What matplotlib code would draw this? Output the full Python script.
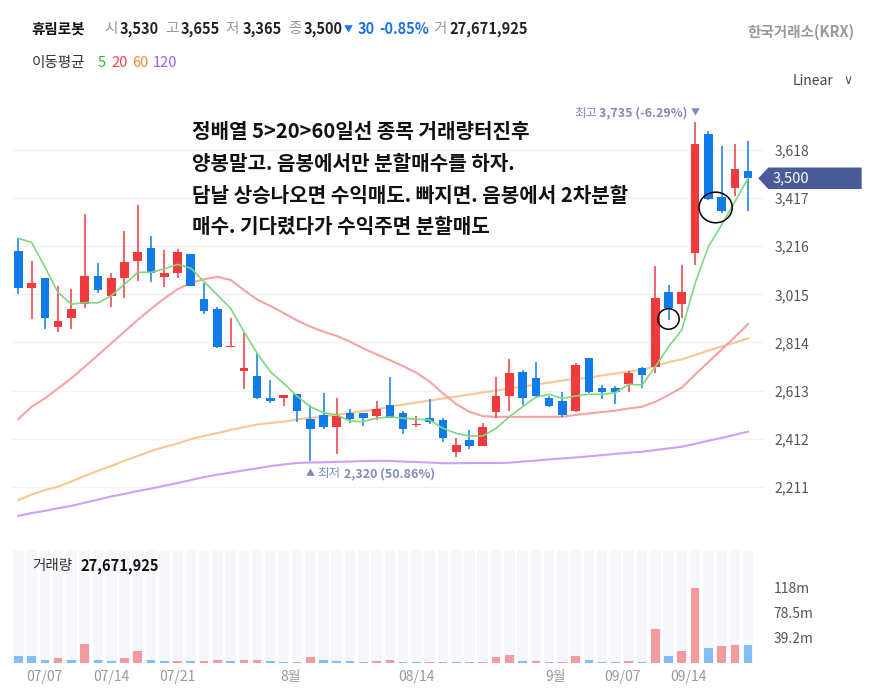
import matplotlib
matplotlib.use("Agg")
import matplotlib.pyplot as plt
from matplotlib.patches import Ellipse, Polygon
from matplotlib.transforms import IdentityTransform, blended_transform_factory

plt.rcParams['font.family'] = ['Noto Sans CJK KR', 'DejaVu Sans']

W, H = 875, 691

# === 일봉 데이터 (07/03 ~ 09/19) ===
opens = [3197, 3040, 3082, 2880, 2915, 2973, 3091, 3008, 3082, 3155,
         3207, 3089, 3105, 3182, 2994, 2952, 2796, 2694, 2673, 2583,
         2581, 2597, 2493, 2511, 2462, 2518, 2518, 2506, 2552, 2518,
         2467, 2497, 2490, 2357, 2406, 2381, 2524, 2590, 2689, 2664,
         2583, 2569, 2527, 2748, 2622, 2622, 2640, 2706, 2712, 3023,
         2973, 3186, 3685, 3420, 3458, 3530]
highs = [3249, 3154, 3082, 3051, 3036, 3349, 3147, 3103, 3280, 3388,
         3259, 3200, 3203, 3182, 3061, 2963, 2915, 2852, 2768, 2657,
         2594, 2597, 2552, 2601, 2580, 2536, 2518, 2569, 2668, 2529,
         2506, 2576, 2497, 2413, 2448, 2476, 2668, 2743, 2697, 2731,
         2590, 2608, 2726, 2750, 2636, 2632, 2696, 2710, 3133, 3054,
         3137, 3735, 3699, 3636, 3642, 3655]
lows = [3016, 2910, 2870, 2859, 2870, 2956, 3019, 2961, 3001, 3072,
        3068, 3047, 3082, 3050, 2931, 2789, 2796, 2619, 2577, 2559,
        2548, 2483, 2320, 2451, 2346, 2478, 2465, 2490, 2497, 2430,
        2459, 2473, 2399, 2336, 2367, 2381, 2497, 2527, 2552, 2585,
        2544, 2501, 2524, 2601, 2577, 2556, 2608, 2622, 2687, 2908,
        2915, 3137, 3408, 3356, 3426, 3365]
closes = [3040, 3061, 2917, 2903, 2952, 3091, 3033, 3082, 3149, 3193,
          3105, 3103, 3190, 3050, 2945, 2793, 2800, 2708, 2583, 2570,
          2594, 2528, 2451, 2462, 2506, 2493, 2499, 2536, 2497, 2452,
          2470, 2483, 2413, 2385, 2381, 2462, 2590, 2685, 2581, 2588,
          2548, 2511, 2720, 2605, 2608, 2606, 2685, 2678, 2998, 2956,
          3023, 3642, 3412, 3363, 3537, 3500]

# 거래량 (백만주) 와 막대 색 (1=빨강, 0=파랑)
volume_m = [10.5, 10.5, 4.2, 6.8, 4.2, 28.9, 4.2, 2.6, 6.8, 18.4,
            4.2, 2.6, 2.6, 2.6, 2.6, 4.2, 2.6, 4.2, 4.2, 2.6,
            1.0, 1.0, 8.4, 4.2, 2.6, 2.6, 1.0, 2.6, 4.7, 1.0,
            1.0, 1.0, 1.0, 1.0, 1.0, 1.0, 8.4, 12.1, 2.6, 2.6,
            1.0, 1.0, 10.5, 4.7, 1.0, 1.0, 2.6, 1.0, 52.5, 10.5,
            18.4, 117.5, 22.6, 26.3, 28.4, 27.67]
volume_up = [0, 0, 0, 1, 0, 1, 0, 0, 1, 1,
             0, 0, 1, 0, 1, 1, 0, 1, 1, 0,
             0, 1, 1, 0, 0, 0, 0, 1, 1, 0,
             0, 1, 0, 0, 0, 1, 1, 1, 0, 1,
             0, 1, 1, 0, 0, 0, 1, 0, 1, 0,
             1, 1, 0, 1, 1, 0]

# 이동평균선
ma5 = [3249, 3232, 3130, 3022, 2974, 2980, 2979, 3009, 3057, 3107,
       3107, 3121, 3140, 3124, 3068, 3012, 2956, 2859, 2768, 2691,
       2643, 2590, 2545, 2520, 2511, 2485, 2483, 2497, 2503, 2497,
       2493, 2490, 2455, 2434, 2423, 2423, 2455, 2503, 2545, 2585,
       2597, 2580, 2590, 2597, 2597, 2604, 2639, 2636, 2712, 2796,
       2866, 3061, 3214, 3305, 3402, 3500]
ma20 = [2493, 2545, 2580, 2622, 2664, 2712, 2761, 2810, 2859, 2908,
        2954, 2998, 3036, 3063, 3078, 3088, 3075, 3033, 2993, 2966,
        2937, 2906, 2880, 2859, 2841, 2817, 2789, 2764, 2740, 2715,
        2687, 2650, 2601, 2556, 2524, 2506, 2503, 2503, 2503, 2503,
        2503, 2503, 2511, 2517, 2523, 2529, 2538, 2545, 2566, 2594,
        2625, 2679, 2732, 2784, 2837, 2891]
ma60 = [2155, 2178, 2197, 2211, 2233, 2256, 2277, 2297, 2320, 2339,
        2360, 2377, 2391, 2410, 2423, 2435, 2448, 2460, 2471, 2477,
        2483, 2492, 2498, 2504, 2513, 2519, 2527, 2533, 2546, 2554,
        2563, 2571, 2580, 2588, 2596, 2605, 2613, 2621, 2630, 2638,
        2646, 2655, 2661, 2667, 2676, 2684, 2692, 2699, 2715, 2732,
        2743, 2761, 2780, 2797, 2813, 2831]
ma120 = [2089, 2101, 2110, 2121, 2131, 2144, 2157, 2170, 2181, 2193,
         2203, 2215, 2226, 2239, 2251, 2261, 2270, 2279, 2288, 2297,
         2304, 2310, 2312, 2313, 2315, 2316, 2318, 2319, 2319, 2316,
         2314, 2312, 2309, 2309, 2310, 2310, 2310, 2311, 2316, 2320,
         2325, 2329, 2333, 2338, 2343, 2348, 2353, 2357, 2364, 2371,
         2378, 2390, 2403, 2415, 2428, 2441]

x_labels = ['07/07', '07/14', '07/21', '8월', '08/14', '9월', '09/07', '09/14']
x_label_pos = [2, 7, 12, 20.5, 30, 40.5, 45.5, 50.5]
price_ticks = [2211, 2412, 2613, 2814, 3015, 3216, 3417, 3618]
vol_ticks = [39.2, 78.5, 118]
vol_tick_labels = ['39.2m', '78.5m', '118m']

memo = ["정배열 5>20>60일선 종목 거래량터진후",
        "양봉말고. 음봉에서만 분할매수를 하자.",
        "담날 상승나오면 수익매도. 빠지면. 음봉에서 2차분할",
        "매수. 기다렸다가 수익주면 분할매도"]
# 표시한 동그라미 (캔들 위치, 가격, 폭, 높이)
circles = [(49, 2912, 1.6, 86), (52.55, 3378, 2.5, 128)]

RED, BLUE = '#ef3a3e', '#127bea'
VRED, VBLUE = '#f29b9f', '#84bdf6'

fig = plt.figure(figsize=(W / 100, H / 100), dpi=100)
fig.patch.set_facecolor('white')

# === 가격 차트 ===
ax = fig.add_axes([12 / W, 1 - 530 / H, 753 / W, 435 / H])
n = len(closes)
xs = list(range(n))
ax.set_xlim(-0.475, n + 0.27)
ax.set_ylim(2030, 3848)

ax.plot(xs, ma120, color='#c9a2f7', lw=1.5, zorder=2)
ax.plot(xs, ma60, color='#fcc592', lw=1.5, zorder=2)
ax.plot(xs, ma20, color='#f7a3a3', lw=1.5, zorder=2)
ax.plot(xs, ma5, color='#7ed87e', lw=1.2, zorder=4)

cols = [RED if c >= o else BLUE for o, c in zip(opens, closes)]
ax.vlines(xs, lows, highs, colors=cols, lw=1.1, zorder=3)
bottoms = [min(o, c) for o, c in zip(opens, closes)]
heights = [max(abs(c - o), 5) for o, c in zip(opens, closes)]
ax.bar(xs, heights, bottom=bottoms, width=0.65, color=cols, zorder=3)

for cx, cy, w, h in circles:
    ax.add_patch(Ellipse((cx, cy), w, h, fill=False, ec='black', lw=1.1, zorder=6))

ax.set_yticks(price_ticks)
ax.set_yticklabels([f'{v:,}' for v in price_ticks])
ax.yaxis.tick_right()
ax.tick_params(axis='y', length=0, pad=7, labelsize=10, labelcolor='#555555')
ax.set_xticks([])
ax.grid(axis='y', color='#f0f2f5', lw=1)
ax.set_axisbelow(True)
for s in ax.spines.values():
    s.set_visible(False)

# 현재가 태그
last = closes[-1]
bt = blended_transform_factory(ax.transAxes, ax.transData)
tag = Polygon([(0.9911, last), (1.0044, last + 45), (1.1284, last + 45),
               (1.1284, last - 45), (1.0044, last - 45)],
              closed=True, transform=bt, clip_on=False, fc='#4a5c98', ec='none')
ax.add_patch(tag)
ax.text(1.0106, last, f'{last:,}', transform=bt, color='white', fontsize=10.5,
        va='center', ha='left')

# === 거래량 차트 ===
axv = fig.add_axes([12 / W, 1 - 662.7 / H, 753 / W, 112.7 / H])
axv.set_xlim(ax.get_xlim())
axv.set_ylim(0, 177.6)
axv.bar(xs, [177.6] * n, width=0.8, color='#f5f7fb', zorder=0)
axv.bar(xs, volume_m, width=0.65, color=[VRED if u else VBLUE for u in volume_up], zorder=2)
axv.set_yticks(vol_ticks)
axv.set_yticklabels(vol_tick_labels)
axv.yaxis.tick_right()
axv.tick_params(axis='y', length=0, pad=6, labelsize=10, labelcolor='#555555')
axv.set_xticks(x_label_pos)
axv.set_xticklabels(x_labels)
axv.tick_params(axis='x', length=0, pad=5, labelsize=10, labelcolor='#999999')
for s in axv.spines.values():
    s.set_visible(False)

renderer = fig.canvas.get_renderer()


def px_text(x, y, s, **kw):
    kw.setdefault('va', 'center')
    return fig.text(x, H - y, s, transform=IdentityTransform(), **kw)


# === 상단 정보 ===
px_text(31, 29, '휴림로봇', color='#111111', fontsize=10.5, fontweight='bold')
header = [(104, '시', '#999999', 'normal'), (120, f'{opens[-1]:,}', '#222222', 'bold'),
          (165, '고', '#999999', 'normal'), (181, f'{highs[-1]:,}', '#222222', 'bold'),
          (225, '저', '#999999', 'normal'), (243, f'{lows[-1]:,}', '#222222', 'bold'),
          (288, '종', '#999999', 'normal'), (304, f'{closes[-1]:,}', '#222222', 'bold'),
          (358, '30', '#1a73e8', 'bold'), (379, '-0.85%', '#1a73e8', 'bold'),
          (433, '거', '#999999', 'normal'), (449, '27,671,925', '#222222', 'bold')]
for hx, s, c, w in header:
    px_text(hx, 29, s, color=c, fontsize=10.5, fontweight=w)
px_text(344, 30, '▼', color='#1a73e8', fontsize=6.5)
px_text(855, 32, '한국거래소(KRX)', color='#9a9a9a', fontsize=10.5, fontweight='bold', ha='right')

px_text(32, 63, '이동평균', color='#333333', fontsize=10.5)
for lx, s, c in [(98, '5', '#2db82d'), (111, '20', '#f04848'),
                 (132, '60', '#f58a2b'), (153, '120', '#9a5cf0')]:
    px_text(lx, 63, s, color=c, fontsize=10.5)
px_text(793, 81, 'Linear', color='#444444', fontsize=10)
px_text(843, 81, '∨', color='#555555', fontsize=9, family=['DejaVu Sans'])

px_text(32, 566, '거래량', color='#333333', fontsize=10.5)
px_text(80, 566, '27,671,925', color='#111111', fontsize=10.5, fontweight='bold')

for k, line in enumerate(memo):
    px_text(192, 131.7 + 31.7 * k, line, color='#111111', fontsize=14.5, fontweight='bold')

# === 최고 / 최저 표시 ===
hi_i = highs.index(max(highs))
lo_i = lows.index(min(lows))
hi, lo = highs[hi_i], lows[lo_i]
ann_c = '#7f8cba'
hx, hy = ax.transData.transform((hi_i, hi))
fig.text(hx, hy + 9, '▼', transform=IdentityTransform(), ha='center', va='center',
         fontsize=6.5, color=ann_c)
t = fig.text(hx - 8, hy + 9, f'{hi:,} ({(last - hi) / hi * 100:.2f}%)',
             transform=IdentityTransform(), ha='right', va='center', fontsize=9,
             fontweight='bold', color=ann_c)
bb = t.get_window_extent(renderer)
fig.text(bb.x0 - 1, hy + 9, '최고', transform=IdentityTransform(), ha='right',
         va='center', fontsize=9, color=ann_c)

lx, ly = ax.transData.transform((lo_i, lo))
fig.text(lx, ly - 13, '▲', transform=IdentityTransform(), ha='center', va='center',
         fontsize=6.5, color=ann_c)
t = fig.text(lx + 7, ly - 13, '최저', transform=IdentityTransform(), ha='left',
             va='center', fontsize=9, color=ann_c)
bb = t.get_window_extent(renderer)
fig.text(bb.x1 + 4, ly - 13, f'{lo:,} ({(last - lo) / lo * 100:.2f}%)',
         transform=IdentityTransform(), ha='left', va='center', fontsize=9,
         fontweight='bold', color=ann_c)

fig.savefig('out.png', dpi=100)
